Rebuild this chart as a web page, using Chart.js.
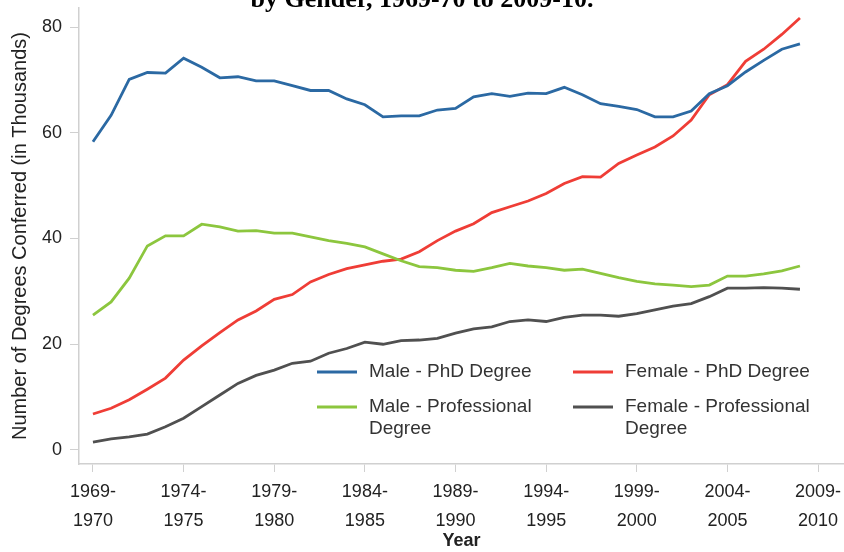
<!DOCTYPE html>
<html>
<head>
<meta charset="utf-8">
<script src="https://cdn.jsdelivr.net/npm/chart.js@4"></script>
<style>
  body { margin: 0; background: #fff; }
  #wrap { width: 844px; height: 552px; position: relative; }
</style>
</head>
<body>
<div id="wrap"><canvas id="graficoLinha"></canvas></div>
<script>
// anos acadêmicos (início do ano: 1969 = 1969-70)
const anos = [
  1969, 1970, 1971, 1972, 1973, 1974, 1975, 1976, 1977, 1978,
  1979, 1980, 1981, 1982, 1983, 1984, 1985, 1986, 1987, 1988,
  1989, 1990, 1991, 1992, 1993, 1994, 1995, 1996, 1997, 1998,
  1999, 2000, 2001, 2002, 2003, 2004, 2005, 2006, 2007, 2008
];
const anosTicks = [1969, 1974, 1979, 1984, 1989, 1994, 1999, 2004, 2009];
const valoresTicksY = [0, 20, 40, 60, 80];

const masculinoPhD = [
  58.3, 63.3, 70.1, 71.4, 71.3, 74.1, 72.4, 70.4, 70.6, 69.8,
  69.8, 68.9, 68.0, 68.0, 66.4, 65.3, 63.0, 63.2, 63.2, 64.3,
  64.6, 66.8, 67.4, 66.9, 67.5, 67.4, 68.6, 67.2, 65.5, 65.0,
  64.4, 63.0, 63.0, 64.1, 67.4, 68.9, 71.5, 73.7, 75.8, 76.8
];
const femininoPhD = [
  6.8, 7.9, 9.5, 11.5, 13.6, 17.0, 19.7, 22.2, 24.6, 26.3,
  28.5, 29.4, 31.8, 33.2, 34.3, 35.0, 35.7, 36.1, 37.5, 39.6,
  41.4, 42.8, 44.9, 46.0, 47.1, 48.5, 50.4, 51.7, 51.6, 54.2,
  55.8, 57.3, 59.4, 62.4, 67.2, 69.1, 73.5, 75.8, 78.6, 81.7
];
const masculinoProf = [
  25.5, 28.0, 32.5, 38.6, 40.5, 40.5, 42.7, 42.2, 41.4, 41.5,
  41.0, 41.0, 40.3, 39.6, 39.1, 38.4, 37.1, 35.8, 34.7, 34.5,
  34.0, 33.8, 34.5, 35.3, 34.8, 34.5, 34.0, 34.2, 33.4, 32.6,
  31.9, 31.4, 31.2, 30.9, 31.2, 32.9, 32.9, 33.3, 33.9, 34.8
];
const femininoProf = [
  1.5, 2.1, 2.5, 3.0, 4.4, 6.0, 8.2, 10.4, 12.6, 14.1,
  15.1, 16.4, 16.8, 18.3, 19.2, 20.4, 20.0, 20.7, 20.8, 21.1,
  22.1, 22.9, 23.3, 24.3, 24.6, 24.3, 25.1, 25.5, 25.5, 25.3,
  25.8, 26.5, 27.2, 27.7, 29.0, 30.6, 30.6, 30.7, 30.6, 30.4
];

const series = [
  { label: ['Male - PhD Degree'], data: masculinoPhD, cor: '#2b69a3' },
  { label: ['Male - Professional', 'Degree'], data: masculinoProf, cor: '#8cc63e' },
  { label: ['Female - PhD Degree'], data: femininoPhD, cor: '#ef3d36' },
  { label: ['Female - Professional', 'Degree'], data: femininoProf, cor: '#505050' }
];

const fonte = "'Liberation Sans', Arial, sans-serif";

document.addEventListener("DOMContentLoaded", function () {
  const ctx = document.getElementById('graficoLinha').getContext('2d');

  // 🔹 título cortado no topo + legenda em duas colunas dentro do gráfico
  const extras = {
    id: 'extras',
    afterDraw(chart) {
      const c = chart.ctx;
      c.save();
      c.fillStyle = '#000';
      c.font = "bold 26px 'Liberation Serif', 'Times New Roman', serif";
      c.textAlign = 'center';
      c.textBaseline = 'alphabetic';
      c.fillText('by Gender, 1969-70 to 2009-10.', 422, 7);

      const posicoes = [
        { x: 317, y: 372 }, { x: 317, y: 407 },
        { x: 573, y: 372 }, { x: 573, y: 407 }
      ];
      c.font = '19px ' + fonte;
      c.textAlign = 'left';
      c.textBaseline = 'middle';
      series.forEach((s, i) => {
        const p = posicoes[i];
        c.strokeStyle = s.cor;
        c.lineWidth = 2.8;
        c.beginPath();
        c.moveTo(p.x, p.y);
        c.lineTo(p.x + 40, p.y);
        c.stroke();
        c.fillStyle = '#333';
        s.label.forEach((linha, j) => c.fillText(linha, p.x + 52, p.y + j * 22));
      });
      c.restore();
    }
  };

  new Chart(ctx, {
    type: 'line',
    data: {
      datasets: series.map(s => ({
        label: s.label.join(' '),
        data: anos.map((a, i) => ({ x: a, y: s.data[i] })),
        borderColor: s.cor,
        borderWidth: 2.8,
        pointRadius: 0,
        tension: 0,
        fill: false
      }))
    },
    options: {
      responsive: true,
      maintainAspectRatio: false,
      animation: false,
      layout: { padding: { top: 8, right: 0, left: 0, bottom: 0 } },
      plugins: {
        legend: { display: false },
        title: { display: false },
        tooltip: { enabled: false }
      },
      scales: {
        x: {
          type: 'linear',
          min: 1968.23,
          max: 2010.43,
          afterBuildTicks: (scale) => { scale.ticks = anosTicks.map(v => ({ value: v })); },
          afterFit: (scale) => {
            scale.height = 88;
            scale.paddingLeft = 0;
            scale.paddingRight = 0;
          },
          border: { display: true, color: '#d0d0d0', width: 1.5 },
          grid: { drawOnChartArea: false, drawTicks: true, tickLength: 8, color: '#d0d0d0' },
          ticks: {
            autoSkip: false,
            maxRotation: 0,
            padding: 6,
            color: '#222',
            font: { family: fonte, size: 18, lineHeight: 1.6 },
            callback: (v) => [v + '-', String(v + 1)]
          },
          title: {
            display: true,
            text: 'Year',
            color: '#222',
            font: { family: fonte, size: 18, weight: 'bold' },
            padding: { top: 0, bottom: 0 }
          }
        },
        y: {
          min: -2.65,
          max: 83.6,
          afterBuildTicks: (scale) => { scale.ticks = valoresTicksY.map(v => ({ value: v })); },
          afterFit: (scale) => {
            scale.width = 79;
            scale.paddingTop = 0;
            scale.paddingBottom = 0;
          },
          border: { display: true, color: '#d0d0d0', width: 1.5 },
          grid: { drawOnChartArea: false, drawTicks: true, tickLength: 9, color: '#d0d0d0' },
          ticks: {
            padding: 8,
            color: '#222',
            font: { family: fonte, size: 18 }
          },
          title: {
            display: true,
            text: 'Number of Degrees Conferred (in Thousands)',
            color: '#222',
            font: { family: fonte, size: 20 },
            padding: { top: 8, bottom: 0 }
          }
        }
      }
    },
    plugins: [extras]
  });
});
</script>
</body>
</html>
